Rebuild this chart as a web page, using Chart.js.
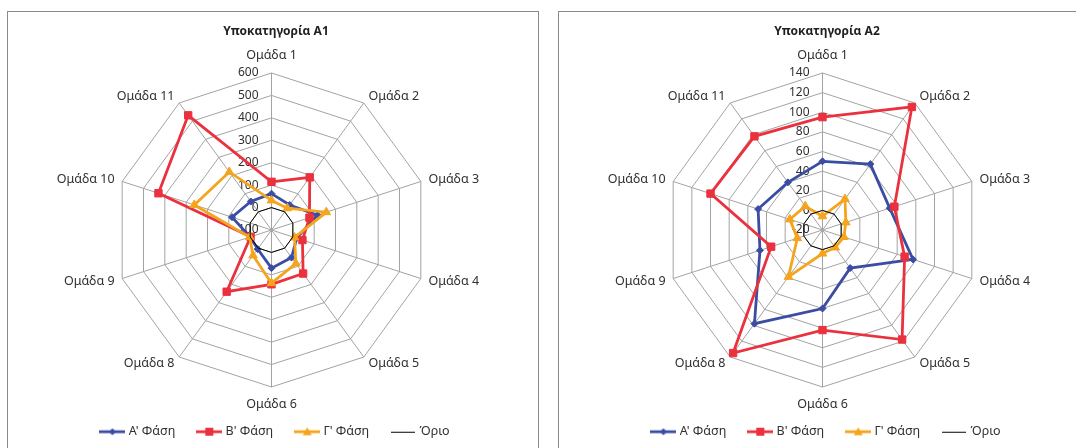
<!DOCTYPE html>
<html>
<head>
<meta charset="utf-8">
<script src="https://cdn.jsdelivr.net/npm/chart.js@4/dist/chart.umd.min.js"></script>
<style>
html,body{margin:0;padding:0;background:#fff;width:1076px;height:448px;overflow:hidden}
.panel{position:absolute;top:11px;width:530px;height:440px;border:1px solid #8a8a8a;background:#fff}
#p1{left:7px}
#p2{left:558px}
.panel canvas{position:absolute;left:0;top:0}
</style>
</head>
<body>
<div class="panel" id="p1"><canvas id="c1" width="530" height="436"></canvas></div>
<div class="panel" id="p2"><canvas id="c2" width="530" height="436"></canvas></div>
<script>
// ---- data ----
const CATEGORIES = ['Ομάδα 1','Ομάδα 2','Ομάδα 3','Ομάδα 4','Ομάδα 5','Ομάδα 6','Ομάδα 8','Ομάδα 9','Ομάδα 10','Ομάδα 11'];
const SERIES_NAMES = ["Α' Φάση", "Β' Φάση", "Γ' Φάση", "Όριο"];

const A1_TITLE = 'Υποκατηγορία A1';
const A1_TICKS = [-100, 0, 100, 200, 300, 400, 500, 600];
const A1_PHASE_A = [62, 38, 115, 18, 52, 70, 5, 0, 85, 57];
const A1_PHASE_B = [115, 190, 78, 45, 140, 142, 240, -2, 430, 532];
const A1_PHASE_C = [32, 20, 157, 8, 85, 137, 40, 2, 262, 220];
const A1_LIMIT   = [0, 0, 0, 0, 0, 0, 0, 0, 0, 0];

const A2_TITLE = 'Υποκατηγορία A2';
const A2_TICKS = [-20, 0, 20, 40, 60, 80, 100, 120, 140];
const A2_PHASE_A = [50, 63, 52, 77, 28, 60, 98, 47, 49, 40];
const A2_PHASE_B = [95, 135, 57, 68, 118, 82, 135, 35, 100, 98];
const A2_PHASE_C = [-6, 19, 5, 3, 2, 4, 39, 7, 15, 10];
const A2_LIMIT   = [0, 0, 0, 0, 0, 0, 0, 0, 0, 0];

// ---- style ----
const FONT = '"Noto Sans", "Open Sans", sans-serif';
const TEXT = '#303030';
const GRID = '#a3a3a3';
const COLORS = ['#3b4da3', '#ea313d', '#f5a41d', '#000000'];
const CX = 263.5, CY = 218, R = 157;

function legendImage(color, marker, lw, width) {
  const c = document.createElement('canvas');
  c.width = width; c.height = 12;
  const g = c.getContext('2d');
  const ly = lw <= 1 ? 6.5 : 6;
  g.strokeStyle = color; g.lineWidth = lw;
  g.beginPath(); g.moveTo(0, ly); g.lineTo(width, ly); g.stroke();
  g.fillStyle = color;
  const m = width / 2;
  if (marker === 'rect') { g.fillRect(m - 4, 2, 8, 8); }
  else if (marker === 'rectRot') { g.beginPath(); g.moveTo(m, 2.5); g.lineTo(m + 3.5, 6); g.lineTo(m, 9.5); g.lineTo(m - 3.5, 6); g.closePath(); g.fill(); }
  else if (marker === 'triangle') { g.beginPath(); g.moveTo(m, 1.5); g.lineTo(m + 4.5, 9.5); g.lineTo(m - 4.5, 9.5); g.closePath(); g.fill(); }
  return c;
}
const LEGEND_IMGS = [
  legendImage(COLORS[0], 'rectRot', 2.8, 26),
  legendImage(COLORS[1], 'rect', 2.8, 26),
  legendImage(COLORS[2], 'triangle', 2.8, 26),
  legendImage(COLORS[3], null, 1, 24)
];

const excelLabels = {
  id: 'excelLabels',
  beforeDatasetsDraw(chart) {
    const s = chart.scales.r;
    const ctx = chart.ctx;
    ctx.save();
    ctx.font = '12px ' + FONT;
    ctx.fillStyle = TEXT;
    ctx.textAlign = 'right';
    ctx.textBaseline = 'middle';
    s.ticks.forEach(t => {
      const d = s.getDistanceFromCenterForValue(t.value);
      ctx.fillText(t.label, s.xCenter - 13, s.yCenter - d);
    });
    ctx.font = '12.5px ' + FONT;
    chart.data.labels.forEach((lab, i) => {
      const p = s.getPointPosition(i, s.drawingArea + 8);
      const deg = Math.round(s.getIndexAngle(i) * 180 / Math.PI) % 360;
      let y = p.y;
      if (deg === 0) { ctx.textAlign = 'center'; y -= 10; }
      else if (deg === 180) { ctx.textAlign = 'center'; y += 9.5; }
      else if (deg < 180) { ctx.textAlign = 'left'; }
      else { ctx.textAlign = 'right'; }
      ctx.fillText(lab, p.x, y);
    });
    ctx.restore();
  }
};

function makeChart(id, title, ticks, a, b, c, lim) {
  const series = [a, b, c, lim];
  const markers = ['rectRot', 'rect', 'triangle', false];
  const radii = [3.5, 5.2, 5, 0];
  const widths = [2.8, 2.8, 2.8, 1];
  const datasets = series.map((d, i) => ({
    label: SERIES_NAMES[i],
    data: d,
    borderColor: COLORS[i],
    backgroundColor: COLORS[i],
    pointBackgroundColor: COLORS[i],
    pointBorderColor: COLORS[i],
    pointBorderWidth: 1,
    pointStyle: markers[i],
    pointRadius: radii[i],
    borderWidth: widths[i],
    fill: false,
    clip: false,
    tension: 0,
    order: 4 - i
  }));
  new Chart(document.getElementById(id), {
    type: 'radar',
    data: { labels: CATEGORIES, datasets },
    plugins: [excelLabels],
    options: {
      responsive: false,
      animation: false,
      devicePixelRatio: 1,
      events: [],
      layout: { padding: { left: 6, right: 0, top: 0, bottom: 0 } },
      scales: {
        r: {
          min: ticks[0],
          max: ticks[ticks.length - 1],
          startAngle: 0,
          ticks: { stepSize: ticks[1] - ticks[0], display: false },
          pointLabels: { display: false },
          grid: { color: GRID, lineWidth: 1 },
          angleLines: { color: GRID, lineWidth: 1 },
          afterFit(s) { s.xCenter = CX; s.yCenter = CY; s.drawingArea = R; }
        }
      },
      plugins: {
        tooltip: { enabled: false },
        title: {
          display: true, text: title, color: '#1f1f1f',
          font: { size: 12, weight: 'bold', family: FONT },
          padding: { top: 12, bottom: 10 }
        },
        legend: {
          position: 'bottom',
          labels: {
            usePointStyle: true,
            pointStyleWidth: 20,
            padding: 24,
            color: TEXT,
            font: { size: 12.5, family: FONT },
            generateLabels: (ch) => ch.data.datasets.map((ds, i) => ({
              text: ds.label, pointStyle: LEGEND_IMGS[i], fillStyle: ds.borderColor,
              strokeStyle: ds.borderColor, lineWidth: 0, hidden: false, datasetIndex: i, fontColor: TEXT
            }))
          }
        }
      }
    }
  });
}

makeChart('c1', A1_TITLE, A1_TICKS, A1_PHASE_A, A1_PHASE_B, A1_PHASE_C, A1_LIMIT);
makeChart('c2', A2_TITLE, A2_TICKS, A2_PHASE_A, A2_PHASE_B, A2_PHASE_C, A2_LIMIT);
</script>
</body>
</html>
